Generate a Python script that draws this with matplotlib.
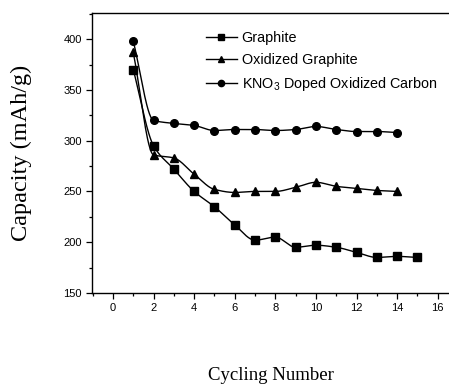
import matplotlib
matplotlib.use("Agg")
import matplotlib.pyplot as plt
import numpy as np
from matplotlib.ticker import MultipleLocator

# cycle number and capacity (mAh/g)
cycles_g = [1, 2, 3, 4, 5, 6, 7, 8, 9, 10, 11, 12, 13, 14, 15]
graphite = [370, 295, 272, 250, 235, 217, 202, 205, 195, 197, 195, 190, 185, 186, 185]

cycles_o = [1, 2, 3, 4, 5, 6, 7, 8, 9, 10, 11, 12, 13, 14]
oxidized = [387, 286, 283, 267, 252, 249, 250, 250, 254, 259, 255, 253, 251, 250]

cycles_k = [1, 2, 3, 4, 5, 6, 7, 8, 9, 10, 11, 12, 13, 14]
kno3 = [398, 320, 317, 315, 310, 311, 311, 310, 311, 314, 311, 309, 309, 308]

labels = ['Graphite', 'Oxidized Graphite', r'KNO$_3$ Doped Oxidized Carbon']
markers = ['s', '^', 'o']


def smooth(x, y, n=30):
    # monotone cubic (pchip) curve through the measured points
    x = np.asarray(x, float)
    y = np.asarray(y, float)
    h = np.diff(x)
    d = np.diff(y) / h
    m = np.zeros_like(y)
    for k in range(1, len(x) - 1):
        if d[k - 1] * d[k] > 0:
            w1 = 2 * h[k] + h[k - 1]
            w2 = h[k] + 2 * h[k - 1]
            m[k] = (w1 + w2) / (w1 / d[k - 1] + w2 / d[k])
    m[0] = d[0]
    m[-1] = d[-1]
    xs, ys = [], []
    t = np.linspace(0, 1, n, endpoint=False)
    for k in range(len(x) - 1):
        h00 = 2 * t ** 3 - 3 * t ** 2 + 1
        h10 = t ** 3 - 2 * t ** 2 + t
        h01 = -2 * t ** 3 + 3 * t ** 2
        h11 = t ** 3 - t ** 2
        xs.extend(x[k] + t * h[k])
        ys.extend(h00 * y[k] + h10 * h[k] * m[k] + h01 * y[k + 1] + h11 * h[k] * m[k + 1])
    xs.append(x[-1])
    ys.append(y[-1])
    return xs, ys


plt.rcParams['font.family'] = ['Liberation Sans', 'DejaVu Sans']
plt.rcParams['mathtext.fontset'] = 'custom'
plt.rcParams['mathtext.rm'] = 'Liberation Sans'
plt.rcParams['mathtext.default'] = 'regular'

fig = plt.figure(figsize=(4.49, 3.87), dpi=100)
ax = fig.add_axes([0.205, 0.243, 0.815, 0.723])

handles = []
for xs, ys, m, lab in zip([cycles_g, cycles_o, cycles_k], [graphite, oxidized, kno3], markers, labels):
    sx, sy = smooth(xs, ys)
    ax.plot(sx, sy, color='black', lw=1.0)
    ax.plot(xs, ys, ls='none', marker=m, ms=5.5, color='black')
    h, = ax.plot([], [], color='black', lw=1.0, marker=m, ms=4.5, label=lab)
    handles.append(h)

ax.set_xlim(-1.03, 17)
ax.set_ylim(150, 425.6)
ax.xaxis.set_major_locator(MultipleLocator(2))
ax.xaxis.set_minor_locator(MultipleLocator(1))
ax.yaxis.set_major_locator(MultipleLocator(50))
ax.yaxis.set_minor_locator(MultipleLocator(25))
ax.tick_params(which='both', direction='out', labelsize=8, width=0.9)
ax.tick_params(which='major', length=4)
ax.tick_params(which='minor', length=2.5)
ax.spines['right'].set_visible(False)
for s in ['left', 'top', 'bottom']:
    ax.spines[s].set_linewidth(1.0)

ax.legend(handles=handles, loc='upper left', bbox_to_anchor=(0.445, 0.935),
          bbox_transform=fig.transFigure, frameon=False, fontsize=10.4,
          handlelength=2.2, handletextpad=0.3, labelspacing=0.55,
          borderaxespad=0)

fig.text(0.047, 0.605, 'Capacity (mAh/g)', rotation=90, ha='center', va='center',
         family='Liberation Serif', fontsize=17.5)
fig.text(0.603, 0.03, 'Cycling Number', ha='center', va='center',
         family='Liberation Serif', fontsize=13.5)

fig.savefig('out.png', dpi=100)
